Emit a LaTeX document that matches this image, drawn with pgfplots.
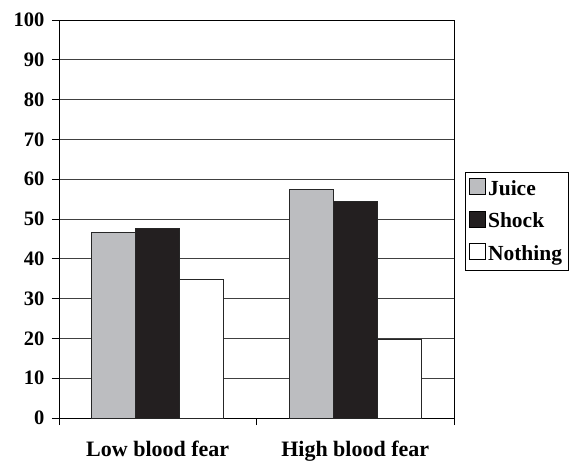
\documentclass[border=0pt]{standalone}
\usepackage{pgfplots}
\pgfplotsset{compat=1.18}
\usepackage{fontspec}
\setmainfont{Liberation Serif}
\definecolor{juice}{HTML}{BCBDC0}
\definecolor{shock}{HTML}{231F20}
\begin{document}
\begin{tikzpicture}
\useasboundingbox (-59pt,-45pt) rectangle (513pt,418pt);
\begin{axis}[at={(0pt,0pt)}, anchor=south west, scale only axis,
 width=395pt, height=398pt,
 ybar=0pt, bar width=0.2228,
 xmin=-0.5, xmax=1.5, ymin=0, ymax=100,
 xtick={-0.5,0.5,1.5}, xticklabels={},
 extra x ticks={0,1}, extra x tick labels={Low blood fear, High blood fear},
 extra x tick style={major tick length=0pt},
 ytick={0,10,...,100}, ymajorgrids,
 grid style={draw=black!75, line width=0.8pt},
 axis line style={line width=0.9pt},
 tick style={black, line width=0.9pt}, major tick length=7pt, tick align=outside,
 xtick pos=bottom, ytick pos=left,
 yticklabel style={font=\fontsize{20.5}{24}\selectfont\bfseries, xshift=-4pt},
 xticklabel style={font=\fontsize{22}{26}\selectfont\bfseries, yshift=-19pt},
 /pgf/number format/assume math mode=true,
 legend image code/.code={\draw[#1, draw=black, line width=0.6pt] (0pt,-6pt) rectangle (16pt,10pt);},
 legend style={at={(1.028,0.618)}, anchor=north west, draw=black, line width=0.8pt,
   font=\fontsize{21.5}{25}\selectfont\bfseries, inner xsep=4pt, inner ysep=6pt,
   row sep=12pt, legend cell align=left,
   /tikz/every odd column/.style={xshift=2pt}},
 every axis plot/.append style={draw=black!85, line width=0.8pt},
]
\addplot[fill=juice] coordinates {(0,46.6) (1,57.5)};
\addplot[fill=shock] coordinates {(0,47.7) (1,54.3)};
\addplot[fill=white] coordinates {(0,34.8) (1,19.7)};
\legend{Juice, Shock, Nothing}
\end{axis}
\end{tikzpicture}
\end{document}
